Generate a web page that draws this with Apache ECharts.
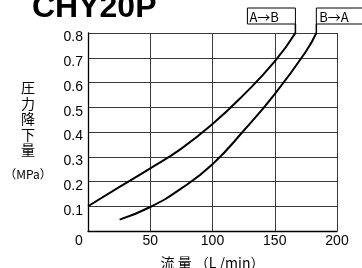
<!DOCTYPE html>
<html>
<head>
<meta charset="utf-8">
<script src="https://cdn.jsdelivr.net/npm/echarts@6/dist/echarts.min.js"></script>
<style>
html, body { margin: 0; padding: 0; background: #fff; }
#ct1 { width: 362px; height: 268px; }
</style>
</head>
<body>
<div id="ct1"></div>
<script>
var titleText = 'CHY20P';
var seriesNames = ['A→B', 'B→A'];
// flow (L/min), pressure drop (MPa)
var flowAB = [0, 25, 50, 75, 100, 125, 150, 166.6];
var dropAB = [0.1, 0.177, 0.253, 0.333, 0.432, 0.55, 0.685, 0.8];
var flowBA = [25.4, 50, 75, 100, 125, 150, 175, 183.4];
var dropBA = [0.046, 0.097, 0.172, 0.27, 0.405, 0.553, 0.725, 0.8];
var yName = ['圧', '力', '降', '下', '量'];
var yUnit = '（MPa）';
var xName = '流 量 （L /min）';

var latin = '"Liberation Sans", Arial, "Noto Sans CJK JP", sans-serif';
var cjk = '"Noto Sans CJK JP", "Liberation Sans", sans-serif';

function pairs(xs, ys) {
	var out = [];
	for (var i = 0; i < xs.length; i++) {
		out.push([xs[i], ys[i]]);
	}
	return out;
}

var myChart1 = echarts.init(document.getElementById('ct1'));

var option1 = {
	animation: false,
	backgroundColor: '#fff',
	title: {
		text: titleText,
		left: 32,
		top: -8,
		padding: 0,
		textStyle: { fontFamily: latin, fontSize: 32, fontWeight: 'bold', color: '#000', lineHeight: 32 }
	},
	grid: { left: 88, right: 25, top: 33, bottom: 37, containLabel: false, outerBoundsMode: 'none' },
	xAxis: {
		type: 'value',
		min: 0,
		max: 200,
		interval: 50,
		name: xName,
		nameLocation: 'middle',
		nameGap: 25,
		nameTextStyle: { fontFamily: cjk, fontSize: 14, color: '#000' },
		axisLine: { lineStyle: { color: '#000', width: 1.3 } },
		axisTick: { show: false },
		splitLine: { show: true, lineStyle: { color: '#3a3a3a', width: 1 } },
		axisLabel: {
			margin: 3,
			fontFamily: latin,
			fontSize: 14,
			color: '#000',
			formatter: function(v) {
				return v === 0 ? '{o|0}' : String(v);
			},
			rich: { o: { fontFamily: latin, fontSize: 14, color: '#000', padding: [0, 18, 0, 0] } }
		}
	},
	yAxis: {
		type: 'value',
		min: 0,
		max: 0.8,
		interval: 0.1,
		axisLine: { show: true, lineStyle: { color: '#000', width: 1.3 } },
		axisTick: { show: false },
		splitLine: { show: true, lineStyle: { color: '#3a3a3a', width: 1 } },
		axisLabel: {
			showMinLabel: false,
			margin: 5,
			fontFamily: latin,
			fontSize: 14,
			color: '#000',
			formatter: function(v) { return '{v|' + v.toFixed(1) + '}'; },
			rich: { v: { fontFamily: latin, fontSize: 14, color: '#000', padding: [9, 0, 0, 0] } }
		}
	},
	series: [{
		name: seriesNames[0],
		type: 'line',
		data: pairs(flowAB, dropAB),
		smooth: 0.5,
		showSymbol: false,
		lineStyle: { color: '#000', width: 2 }
	}, {
		name: seriesNames[1],
		type: 'line',
		data: pairs(flowBA, dropBA),
		smooth: 0.5,
		showSymbol: false,
		lineStyle: { color: '#000', width: 2 }
	}]
};

myChart1.setOption(option1, true);

// labels for the curves, tied to the curve ends
var endAB = myChart1.convertToPixel({ gridIndex: 0 }, [flowAB[flowAB.length - 1], dropAB[dropAB.length - 1]]);
var endBA = myChart1.convertToPixel({ gridIndex: 0 }, [flowBA[flowBA.length - 1], dropBA[dropBA.length - 1]]);
var boxTop = 8, boxH = 16, boxW = 48;

myChart1.setOption({
	graphic: [{
		type: 'rect',
		shape: { x: endAB[0] - boxW, y: boxTop, width: boxW, height: boxH },
		style: { fill: '#fff', stroke: '#000', lineWidth: 1 }
	}, {
		type: 'line',
		shape: { x1: endAB[0], y1: boxTop + boxH, x2: endAB[0], y2: endAB[1] },
		style: { stroke: '#000', lineWidth: 1.5 }
	}, {
		type: 'text',
		x: endAB[0] - boxW + 2,
		y: boxTop + boxH / 2 + 1,
		style: { text: seriesNames[0], font: '13px ' + cjk, fill: '#000', verticalAlign: 'middle' }
	}, {
		type: 'rect',
		shape: { x: endBA[0], y: boxTop, width: boxW, height: boxH },
		style: { fill: '#fff', stroke: '#000', lineWidth: 1 }
	}, {
		type: 'line',
		shape: { x1: endBA[0], y1: boxTop + boxH, x2: endBA[0], y2: endBA[1] },
		style: { stroke: '#000', lineWidth: 1.5 }
	}, {
		type: 'text',
		x: endBA[0] + 3,
		y: boxTop + boxH / 2 + 1,
		style: { text: seriesNames[1], font: '13px ' + cjk, fill: '#000', verticalAlign: 'middle' }
	}, {
		type: 'text',
		x: 28,
		y: 80,
		style: { text: yName.join('\n'), font: '14px ' + cjk, lineHeight: 15.5, fill: '#000', align: 'center', verticalAlign: 'top' }
	}, {
		type: 'text',
		x: 28,
		y: 174,
		style: { text: yUnit, font: '12px ' + cjk, fill: '#000', align: 'center', verticalAlign: 'middle' }
	}]
});
</script>
</body>
</html>
